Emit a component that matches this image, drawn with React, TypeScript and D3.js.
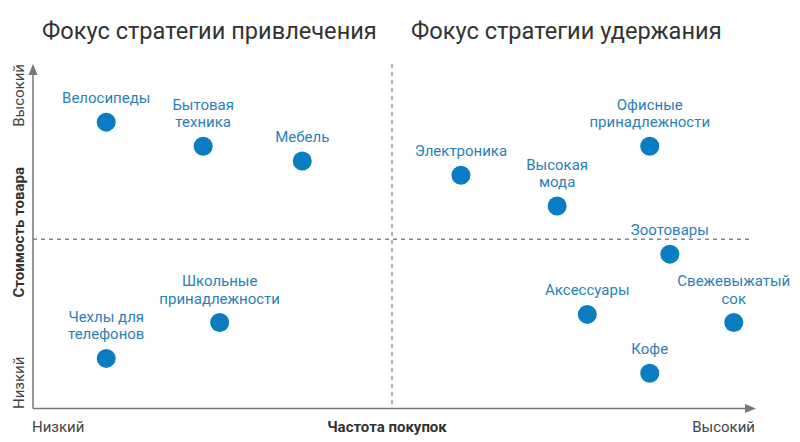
import React from "react";
import * as d3 from "d3";

const names: string[][] = [
  ["Велосипеды"],
  ["Бытовая", "техника"],
  ["Мебель"],
  ["Электроника"],
  ["Высокая", "мода"],
  ["Офисные", "принадлежности"],
  ["Зоотовары"],
  ["Аксессуары"],
  ["Свежевыжатый", "сок"],
  ["Кофе"],
  ["Школьные", "принадлежности"],
  ["Чехлы для", "телефонов"],
];
const frequency = [1.02, 2.37, 3.75, 5.96, 7.3, 8.59, 8.87, 7.72, 9.76, 8.59, 2.6, 1.02];
const cost = [8.46, 7.75, 7.31, 6.89, 5.98, 7.75, 4.56, 2.78, 2.54, 1.04, 2.54, 1.48];
const titles = ["Фокус стратегии привлечения", "Фокус стратегии удержания"];
const xAxisLabels = ["Низкий", "Частота покупок", "Высокий"];
const yAxisLabels = ["Низкий", "Стоимость товара", "Высокий"];

const W = 800;
const H = 442;
const x0 = 33;
const x1 = 751;
const yBottom = 408.5;
const yTop = 70;

export default function App() {
  const x = d3.scaleLinear().domain([0, 10]).range([x0, x1]);
  const y = d3.scaleLinear().domain([0, 10]).range([yBottom, yTop]);
  const font = "Roboto, 'Noto Sans', sans-serif";
  const blue = "#0a7cc1";
  const labelColor = "#2b7fb8";
  const axisColor = "#777";
  const midX = x(5);
  const midY = y(5);
  return (
    <svg
      width={W}
      height={H}
      style={{ position: "absolute", left: 0, top: 0, background: "#fff" }}
      fontFamily={font}
    >
      <rect width={W} height={H} fill="#fff" />
      <text x={42} y={39} fontSize={23.6} fill="#333">{titles[0]}</text>
      <text x={411} y={39} fontSize={23.6} fill="#333">{titles[1]}</text>

      {/* quadrant dividers */}
      <line x1={midX} x2={midX} y1={64} y2={yBottom} stroke="#888" strokeWidth={1.3} strokeDasharray="4,4" />
      <line x1={x0} x2={752} y1={midY} y2={midY} stroke="#888" strokeWidth={1.3} strokeDasharray="4,4" />

      {/* axes */}
      <line x1={x0} x2={x0} y1={yBottom} y2={72} stroke={axisColor} strokeWidth={1.5} />
      <path d={`M${x0 - 4.5},${75} L${x0},${64} L${x0 + 4.5},${75} Z`} fill={axisColor} />
      <line x1={x0} x2={748} y1={yBottom} y2={yBottom} stroke={axisColor} strokeWidth={1.5} />
      <path d={`M${745},${yBottom - 4.5} L${756},${yBottom} L${745},${yBottom + 4.5} Z`} fill={axisColor} />

      {/* x axis labels */}
      <text x={32} y={432} fontSize={15} fill="#444">{xAxisLabels[0]}</text>
      <text x={387} y={432} fontSize={15} fill="#333" fontWeight="bold" textAnchor="middle">{xAxisLabels[1]}</text>
      <text x={755} y={432} fontSize={15} fill="#444" textAnchor="end">{xAxisLabels[2]}</text>

      {/* y axis labels */}
      <text transform={`translate(24,${409}) rotate(-90)`} fontSize={15} fill="#444">{yAxisLabels[0]}</text>
      <text transform={`translate(24,${midY - 7}) rotate(-90)`} fontSize={15} fill="#333" fontWeight="bold" textAnchor="middle">{yAxisLabels[1]}</text>
      <text transform={`translate(24,${64}) rotate(-90)`} fontSize={15} fill="#444" textAnchor="end">{yAxisLabels[2]}</text>

      {names.map((lines, i) => {
        const cx = x(frequency[i]);
        const cy = y(cost[i]);
        const n = lines.length;
        return (
          <g key={i}>
            <circle cx={cx} cy={cy} r={9.5} fill={blue} />
            {lines.map((t, j) => (
              <text
                key={j}
                x={cx}
                y={cy - 19 - (n - 1 - j) * 17.5}
                fontSize={15}
                fill={labelColor}
                textAnchor="middle"
              >
                {t}
              </text>
            ))}
          </g>
        );
      })}
    </svg>
  );
}
